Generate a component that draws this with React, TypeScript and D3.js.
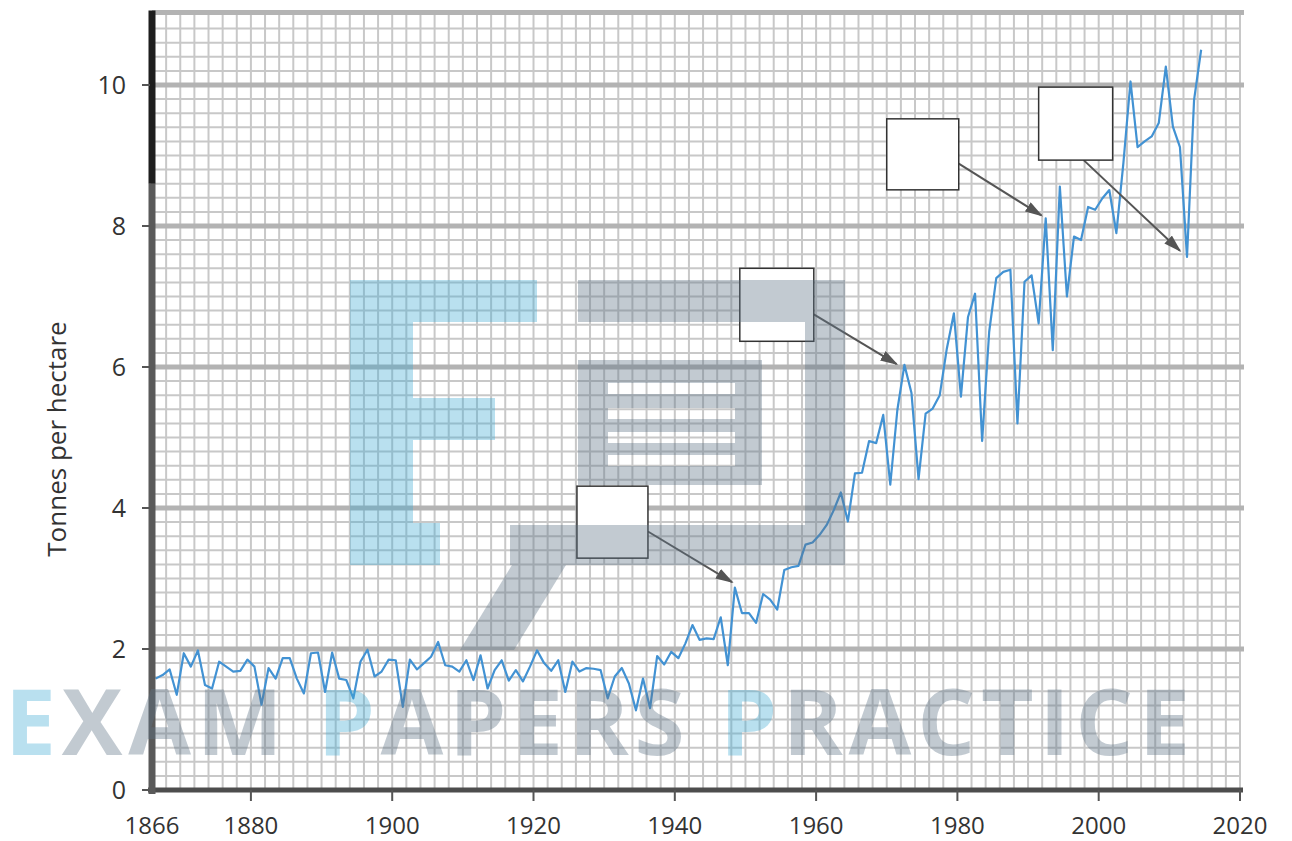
import React, { useEffect, useRef } from 'react'
import * as d3 from 'd3'

// yearly yield, 1866 - 2014
const years = d3.range(1866, 2015)
const yields = [
  1.58, 1.63, 1.71, 1.35, 1.94, 1.75, 1.98, 1.49, 1.44, 1.82,
  1.75, 1.68, 1.69, 1.85, 1.75, 1.21, 1.73, 1.58, 1.87, 1.87,
  1.58, 1.37, 1.94, 1.95, 1.39, 1.95, 1.58, 1.56, 1.30, 1.82,
  1.99, 1.61, 1.68, 1.85, 1.84, 1.18, 1.85, 1.71, 1.80, 1.89,
  2.10, 1.77, 1.75, 1.68, 1.84, 1.56, 1.91, 1.44, 1.70, 1.84,
  1.55, 1.70, 1.54, 1.75, 1.98, 1.80, 1.69, 1.84, 1.39, 1.82,
  1.68, 1.73, 1.72, 1.70, 1.30, 1.61, 1.73, 1.51, 1.13, 1.58,
  1.16, 1.90, 1.78, 1.96, 1.87, 2.08, 2.34, 2.13, 2.15, 2.14,
  2.45, 1.77, 2.87, 2.51, 2.51, 2.37, 2.78, 2.70, 2.56, 3.12,
  3.16, 3.18, 3.48, 3.51, 3.62, 3.76, 3.97, 4.22, 3.81, 4.49,
  4.50, 4.95, 4.92, 5.32, 4.33, 5.39, 6.03, 5.63, 4.41, 5.34,
  5.41, 5.60, 6.26, 6.76, 5.58, 6.71, 7.04, 4.95, 6.50, 7.26,
  7.35, 7.38, 5.20, 7.21, 7.30, 6.62, 8.11, 6.24, 8.56, 7.00,
  7.85, 7.80, 8.27, 8.23, 8.39, 8.51, 7.90, 8.90, 10.05, 9.12,
  9.20, 9.27, 9.46, 10.26, 9.41, 9.12, 7.56, 9.79, 10.50,
]

const yTicks = [0, 2, 4, 6, 8, 10]
const xTicks = [1880, 1900, 1920, 1940, 1960, 1980, 2000, 2020]
const xLabels = [1866, 1880, 1900, 1920, 1940, 1960, 1980, 2000, 2020]
const yTitle = 'Tonnes per hectare'

// empty label boxes and the points their arrows point at
const boxYear = [1926.15, 1949.2, 1970.0, 1991.5]
const boxValue = [4.31, 7.4, 9.52, 9.97]
const tipYear = [1948.1, 1971.4, 1991.9, 2011.5]
const tipValue = [2.95, 6.04, 8.15, 7.65]

const markParts = ['E', 'XAM ', 'P', 'APERS ', 'P', 'RACTICE']

const W = 1292
const H = 841

function App() {
  const ref = useRef<SVGSVGElement>(null)

  useEffect(() => {
    const svg = d3.select(ref.current)
    svg.selectAll('*').remove()

    const x = d3.scaleLinear().domain([1866, 2020]).range([152, 1240])
    const y = d3.scaleLinear().domain([0, 10]).range([790, 85])
    const top = 11.03

    const defs = svg.append('defs')
    defs.append('marker')
      .attr('id', 'head')
      .attr('viewBox', '0 0 10 10')
      .attr('refX', 9).attr('refY', 5)
      .attr('markerWidth', 9).attr('markerHeight', 5.5)
      .attr('markerUnits', 'strokeWidth')
      .attr('orient', 'auto')
      .attr('preserveAspectRatio', 'none')
      .append('path')
      .attr('d', 'M0,0 L10,5 L0,10 Z')
      .attr('fill', '#555')

    // grid
    const grid = svg.append('g')
    grid.selectAll('.vx')
      .data(d3.range(1866, 2021, 2))
      .enter().append('line')
      .attr('x1', d => x(d)).attr('x2', d => x(d))
      .attr('y1', y(top)).attr('y2', y(0))
      .attr('stroke', '#c8c8c8').attr('stroke-width', 2)
    grid.selectAll('.hy')
      .data(d3.range(0, 55).map(i => i * 0.2))
      .enter().append('line')
      .attr('x1', x(1866)).attr('x2', x(2020))
      .attr('y1', d => y(d)).attr('y2', d => y(d))
      .attr('stroke', '#c8c8c8').attr('stroke-width', 2)
    grid.selectAll('.major')
      .data([2, 4, 6, 8, 10, top])
      .enter().append('line')
      .attr('x1', x(1866)).attr('x2', x(2020) + 4)
      .attr('y1', d => y(d)).attr('y2', d => y(d))
      .attr('stroke', '#b3b3b3').attr('stroke-width', 5)

    // series
    const line = d3.line<number>()
      .x((_, i) => x(years[i] + 0.5))
      .y(d => y(d))
    svg.append('path')
      .datum(yields)
      .attr('d', line)
      .attr('fill', 'none')
      .attr('stroke', '#4292d3')
      .attr('stroke-width', 2.2)
      .attr('stroke-linejoin', 'round')

    // boxes + arrows
    const bw = [71, 74, 72, 74]
    const bh = [72, 73, 71, 73]
    const notes = svg.append('g')
    boxYear.forEach((by, i) => {
      const bx = x(by)
      const bt = y(boxValue[i])
      let sx = bx + bw[i]
      let sy = bt + bh[i] * 0.63
      if (i === 3) { sx = bx + 45; sy = bt + bh[i] }
      notes.append('line')
        .attr('x1', sx).attr('y1', sy)
        .attr('x2', x(tipYear[i])).attr('y2', y(tipValue[i]))
        .attr('stroke', '#555').attr('stroke-width', 2)
        .attr('marker-end', 'url(#head)')
      notes.append('rect')
        .attr('x', bx).attr('y', bt)
        .attr('width', bw[i]).attr('height', bh[i])
        .attr('fill', '#fff').attr('stroke', '#333').attr('stroke-width', 1.5)
    })

    // axes
    const ax = svg.append('g')
    ax.append('line')
      .attr('x1', 148).attr('x2', 1243)
      .attr('y1', y(0)).attr('y2', y(0))
      .attr('stroke', '#4d4d4d').attr('stroke-width', 5)
    ax.append('line')
      .attr('x1', 152).attr('x2', 152)
      .attr('y1', y(8.6)).attr('y2', y(0) + 4)
      .attr('stroke', '#5a5a5a').attr('stroke-width', 7)
    ax.append('line')
      .attr('x1', 152).attr('x2', 152)
      .attr('y1', y(top) - 2).attr('y2', y(8.6))
      .attr('stroke', '#1e1e1e').attr('stroke-width', 7)

    ax.selectAll('.yt')
      .data(yTicks)
      .enter().append('line')
      .attr('x1', 142).attr('x2', 150)
      .attr('y1', d => y(d)).attr('y2', d => y(d))
      .attr('stroke', '#555').attr('stroke-width', 2)
    ax.selectAll('.ytl')
      .data(yTicks)
      .enter().append('text')
      .attr('x', 126).attr('y', d => y(d))
      .attr('dy', '0.36em')
      .attr('text-anchor', 'end')
      .attr('font-family', 'Open Sans')
      .attr('font-size', 25)
      .attr('fill', '#333')
      .text(d => d)

    ax.selectAll('.xt')
      .data(xTicks)
      .enter().append('line')
      .attr('x1', d => x(d)).attr('x2', d => x(d))
      .attr('y1', y(0)).attr('y2', y(0) + 11)
      .attr('stroke', '#555').attr('stroke-width', 2)
    ax.selectAll('.xtl')
      .data(xLabels)
      .enter().append('text')
      .attr('x', d => x(d)).attr('y', 834)
      .attr('text-anchor', 'middle')
      .attr('font-family', 'Open Sans')
      .attr('font-size', 24)
      .attr('fill', '#333')
      .text(d => d)

    svg.append('text')
      .attr('transform', 'translate(66,439) rotate(-90)')
      .attr('text-anchor', 'middle')
      .attr('font-family', 'Open Sans')
      .attr('font-size', 26)
      .attr('fill', '#333')
      .text(yTitle)

    // watermark
    const wm = svg.append('g').attr('pointer-events', 'none')
    const blue = 'rgba(60,170,210,0.36)'
    const grey = 'rgba(95,115,135,0.38)'
    const eParts = [[350, 280, 63, 285], [413, 280, 124, 42], [413, 398, 82, 42], [413, 523, 27, 42]]
    eParts.forEach(([px, py, pw, ph]) => {
      wm.append('rect').attr('x', px).attr('y', py).attr('width', pw).attr('height', ph).attr('fill', blue)
    })
    const gParts = [[578, 280, 227, 42], [805, 280, 40, 285], [510, 525, 295, 40]]
    gParts.forEach(([px, py, pw, ph]) => {
      wm.append('rect').attr('x', px).attr('y', py).attr('width', pw).attr('height', ph).attr('fill', grey)
    })
    wm.append('path')
      .attr('d', 'M512,565 L566,565 L514,650 L460,650 Z')
      .attr('fill', grey)
    let doc = 'M578,360 H762 V485 H578 Z'
    ;[383, 408, 432, 455].forEach(sy => {
      doc += ` M608,${sy} H735 V${sy + 11} H608 Z`
    })
    wm.append('path').attr('d', doc).attr('fill', grey).attr('fill-rule', 'evenodd')

    const txt = wm.append('text')
      .attr('x', 5).attr('y', 755)
      .attr('font-family', 'Open Sans')
      .attr('font-weight', 700)
      .attr('font-size', 91)
      .attr('textLength', 1185)
      .attr('lengthAdjust', 'spacing')
    markParts.forEach((s, i) => {
      txt.append('tspan')
        .attr('fill', i % 2 === 0 ? blue : grey)
        .text(s)
    })
  }, [])

  return (
    <svg
      ref={ref}
      width={W}
      height={H}
      style={{ position: 'absolute', left: 0, top: 0, background: '#fff' }}
    />
  )
}

export default App
